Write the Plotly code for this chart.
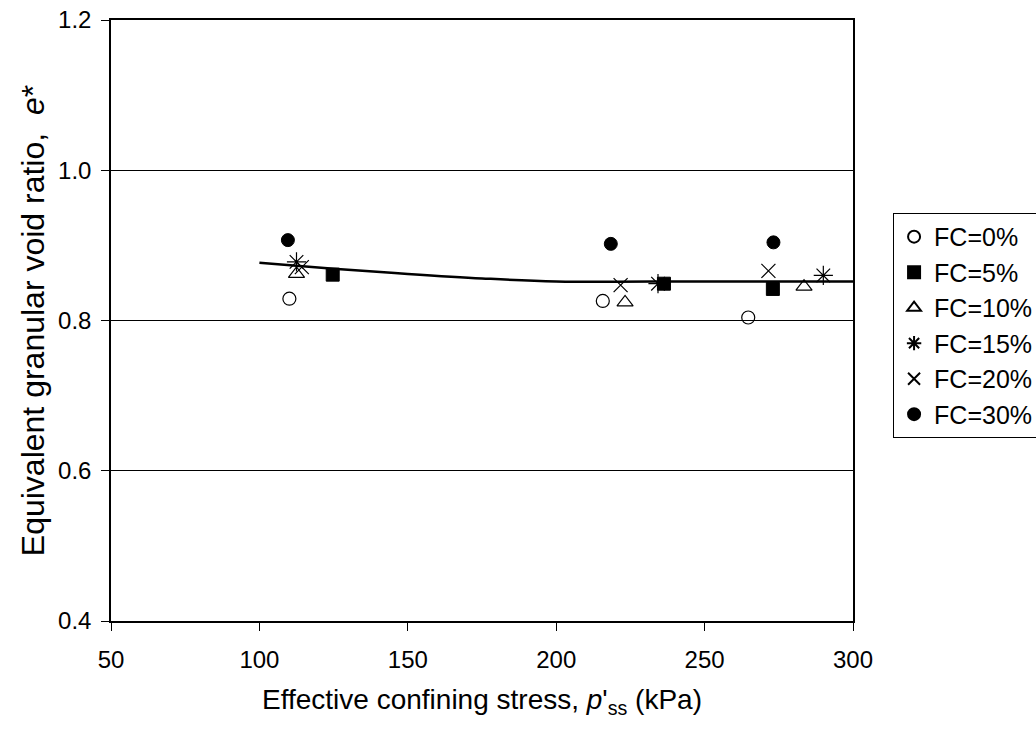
import plotly.graph_objects as go

# Data
fc0_x = [110.1, 215.7, 264.7]
fc0_y = [0.829, 0.826, 0.804]
fc5_x = [124.7, 236.3, 273.0]
fc5_y = [0.861, 0.849, 0.842]
fc10_x = [112.5, 223.2, 283.5]
fc10_y = [0.862, 0.824, 0.845]
fc15_x = [112.5, 234.3, 290.0]
fc15_y = [0.878, 0.849, 0.860]
fc20_x = [114.3, 221.7, 271.5]
fc20_y = [0.871, 0.847, 0.866]
fc30_x = [109.6, 218.4, 273.2]
fc30_y = [0.907, 0.902, 0.904]

trend_x = [100, 125, 150, 175, 200, 250, 300]
trend_y = [0.877, 0.869, 0.862, 0.856, 0.852, 0.852, 0.852]

x_ticks = [50, 100, 150, 200, 250, 300]
y_ticks = [0.4, 0.6, 0.8, 1.0, 1.2]

FONT = "Arial, Liberation Sans, sans-serif"

fig = go.Figure()

series = [
    ("FC=0%", fc0_x, fc0_y, "circle-open", 13, 1.2),
    ("FC=5%", fc5_x, fc5_y, "square", 13, 1.0),
    ("FC=10%", fc10_x, fc10_y, "triangle-up-open", 14, 1.2),
    ("FC=15%", fc15_x, fc15_y, "asterisk-open", 16, 1.2),
    ("FC=20%", fc20_x, fc20_y, "x-thin-open", 14, 1.2),
    ("FC=30%", fc30_x, fc30_y, "circle", 13, 1.0),
]

fig.add_trace(go.Scatter(
    x=trend_x, y=trend_y, mode="lines",
    line=dict(color="black", width=2.5, shape="spline"),
    showlegend=False, hoverinfo="skip",
))

for name, xs, ys, sym, size, lw in series:
    fig.add_trace(go.Scatter(
        x=xs, y=ys, mode="markers", name=name,
        marker=dict(symbol=sym, size=size, color="black",
                    line=dict(color="black", width=lw)),
    ))

fig.update_layout(
    width=1036, height=730,
    margin=dict(l=111, r=183, t=20, b=109, autoexpand=False),
    paper_bgcolor="white", plot_bgcolor="white",
    font=dict(family=FONT, size=24, color="black"),
    legend=dict(
        x=1.054, y=0.679, xanchor="left", yanchor="top",
        bordercolor="black", borderwidth=1,
        font=dict(family=FONT, size=25, color="black"),
        itemsizing="constant", tracegroupgap=0,
    ),
    xaxis=dict(
        range=[50, 300], tickvals=x_ticks, automargin=True,
        ticks="outside", ticklen=8, tickcolor="black",
        showline=True, linecolor="black", linewidth=1.5, mirror=True,
        showgrid=False, zeroline=False,
        tickfont=dict(size=24), ticklabelstandoff=8,
        title=dict(text="Effective confining stress, <i>p</i>'<sub>ss</sub> (kPa)",
                   font=dict(size=28), standoff=18),
    ),
    yaxis=dict(
        range=[0.4, 1.2], tickvals=y_ticks, tickformat=".1f", automargin=True,
        ticks="outside", ticklen=8, tickcolor="black",
        showline=True, linecolor="black", linewidth=1.5, mirror=True,
        showgrid=True, gridcolor="black", gridwidth=1,
        zeroline=False,
        tickfont=dict(size=24), ticklabelstandoff=5,
        title=dict(text="Equivalent granular void ratio,  <i>e</i>*",
                   font=dict(size=32), standoff=4),
    ),
)

fig.write_html("out.html")
